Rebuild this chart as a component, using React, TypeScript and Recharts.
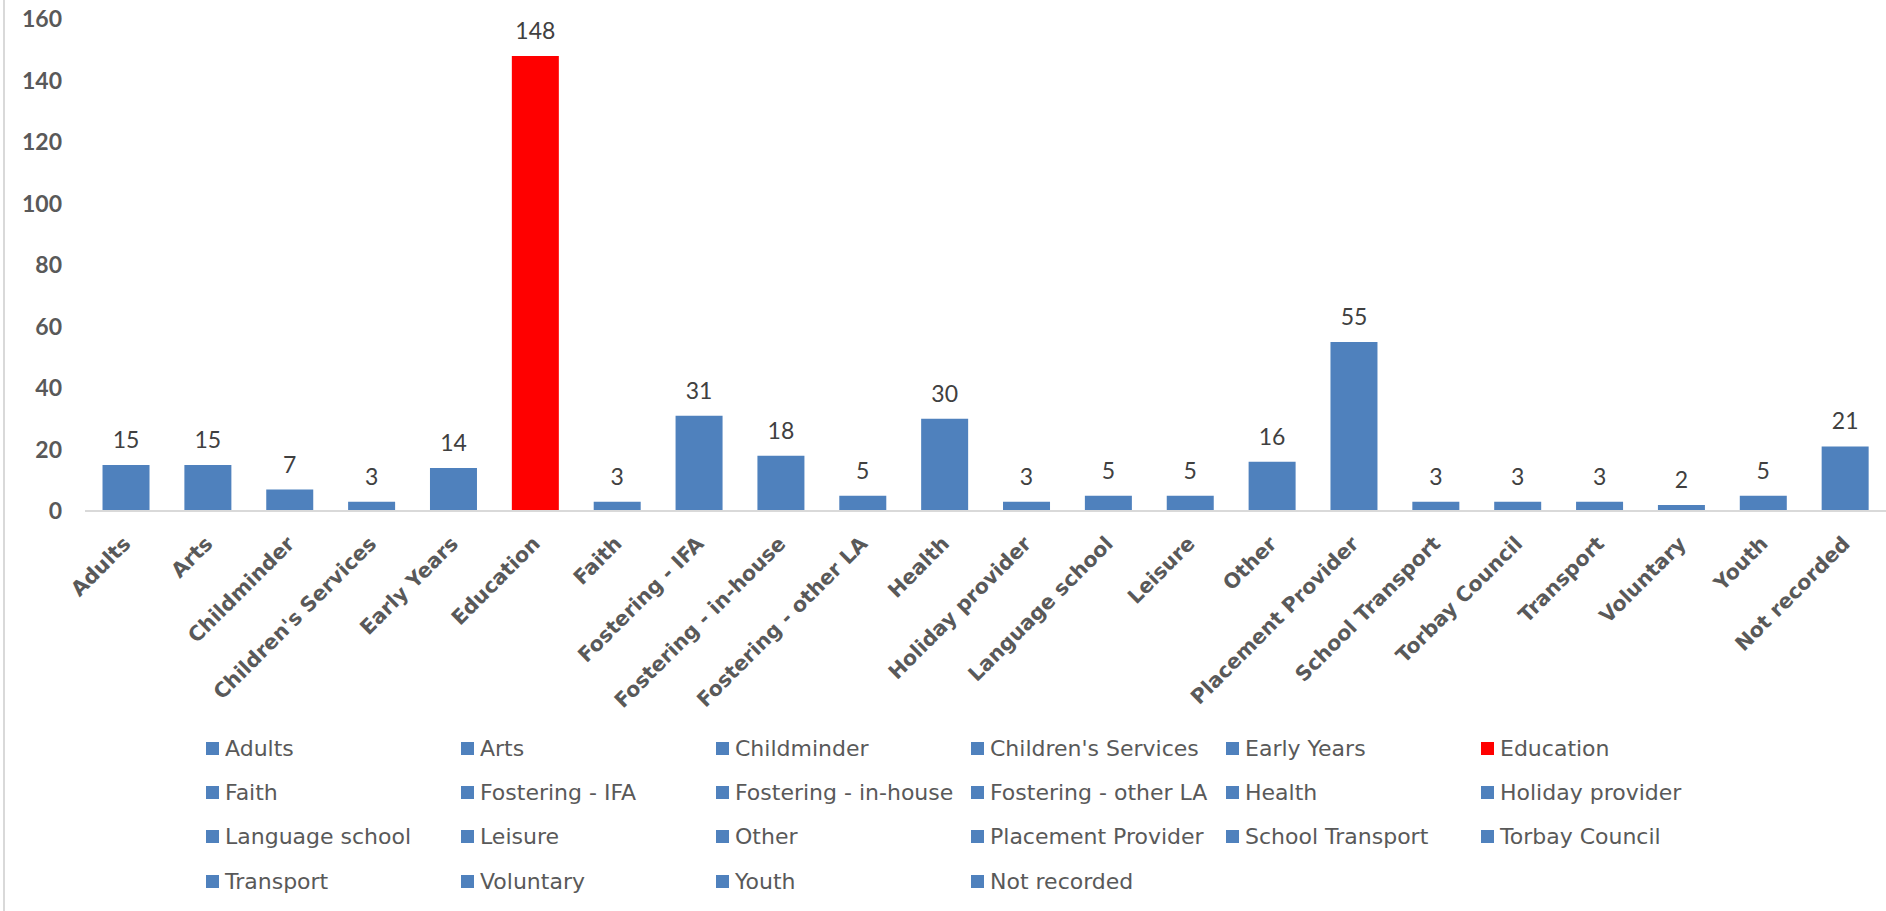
import { BarChart, Bar, XAxis, YAxis, Cell, LabelList, Legend } from "recharts";

const categories = [
  "Adults",
  "Arts",
  "Childminder",
  "Children's Services",
  "Early Years",
  "Education",
  "Faith",
  "Fostering - IFA",
  "Fostering - in-house",
  "Fostering - other LA",
  "Health",
  "Holiday provider",
  "Language school",
  "Leisure",
  "Other",
  "Placement Provider",
  "School Transport",
  "Torbay Council",
  "Transport",
  "Voluntary",
  "Youth",
  "Not recorded",
];

const counts = [15, 15, 7, 3, 14, 148, 3, 31, 18, 5, 30, 3, 5, 5, 16, 55, 3, 3, 3, 2, 5, 21];

const yTicks = [0, 20, 40, 60, 80, 100, 120, 140, 160];

const highlighted = "Education";

const BLUE = "#4f81bd";
const RED = "#ff0000";
const FONT = "Lato, 'Century Gothic', sans-serif";
const WIDE = "'DejaVu Sans', 'Century Gothic', sans-serif";

const data = categories.map((name, i) => ({ name, count: counts[i] }));

// rotated category labels, end of text sits just right of the bar centre
function XTick({ x, y, payload }: any) {
  const ax = x + 6;
  const ay = y + 32;
  return (
    <text
      x={ax}
      y={ay}
      transform={`rotate(-45 ${ax} ${ay})`}
      textAnchor="end"
      fill="#595959"
      fontSize={20.5}
      fontWeight={700}
      fontFamily={WIDE}
    >
      {payload.value}
    </text>
  );
}

function CategoryLegend() {
  return (
    <div
      style={{
        display: "flex",
        flexWrap: "wrap",
        width: 6 * 255,
        marginLeft: 206,
        fontFamily: WIDE,
        fontSize: 22,
        color: "#595959",
      }}
    >
      {categories.map((c) => (
        <div
          key={c}
          style={{
            width: 255,
            height: 44.4,
            display: "flex",
            alignItems: "center",
            whiteSpace: "nowrap",
          }}
        >
          <span
            style={{
              display: "inline-block",
              flex: "none",
              width: 13,
              height: 13,
              background: c === highlighted ? RED : BLUE,
              marginRight: 6,
            }}
          />
          {c}
        </div>
      ))}
    </div>
  );
}

export default function App() {
  return (
    <div
      style={{
        position: "fixed",
        left: 0,
        top: 0,
        width: 1886,
        height: 911,
        background: "#fff",
      }}
    >
      <div
        style={{
          position: "absolute",
          left: 3,
          top: 0,
          width: 2,
          height: 911,
          background: "#d9d9d9",
        }}
      />
      <BarChart
        width={1886}
        height={911}
        data={data}
        margin={{ top: 19, right: 0, bottom: 7.6, left: 0 }}
        barCategoryGap="21.4%"
      >
        <XAxis
          dataKey="name"
          interval={0}
          height={214.8}
          tickLine={false}
          tickSize={0}
          axisLine={{ stroke: "#d9d9d9", strokeWidth: 2 }}
          tick={<XTick />}
        />
        <YAxis
          width={85}
          domain={[0, 160]}
          ticks={yTicks}
          axisLine={false}
          tickLine={false}
          tickSize={0}
          tickMargin={23}
          tick={{ fill: "#595959", fontSize: 23, fontWeight: 700, fontFamily: FONT }}
        />
        <Legend
          verticalAlign="bottom"
          content={<CategoryLegend />}
          wrapperStyle={{ left: 0, width: 1886, bottom: 7.6 }}
        />
        <Bar dataKey="count" isAnimationActive={false}>
          {data.map((d) => (
            <Cell key={d.name} fill={d.name === highlighted ? RED : BLUE} />
          ))}
          <LabelList
            dataKey="count"
            position="top"
            offset={17}
            fill="#404040"
            fontSize={23}
            fontFamily={FONT}
          />
        </Bar>
      </BarChart>
    </div>
  );
}
